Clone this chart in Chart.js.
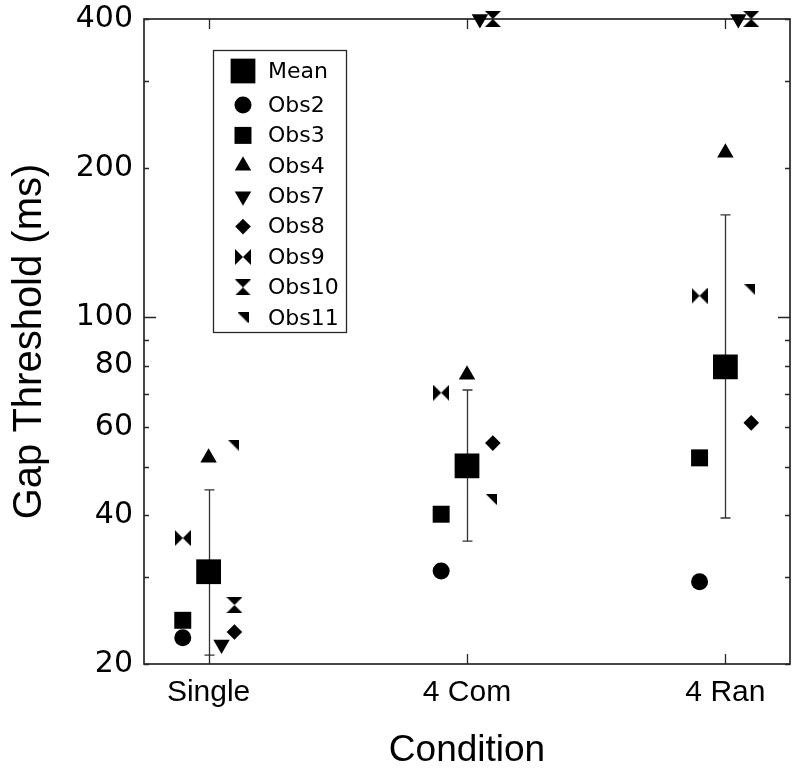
<!DOCTYPE html>
<html>
<head>
<meta charset="utf-8">
<script src="https://cdn.jsdelivr.net/npm/chart.js@4/dist/chart.umd.min.js"></script>
<style>
html,body{margin:0;padding:0;background:#fff;}
#wrap{width:800px;height:774px;}
</style>
</head>
<body>
<div id="wrap"><canvas id="c" width="800" height="774"></canvas></div>
<script>
// ---------- data ----------
const categories = ['Single', '4 Com', '4 Ran'];
const seriesNames = ['Mean', 'Obs2', 'Obs3', 'Obs4', 'Obs7', 'Obs8', 'Obs9', 'Obs10', 'Obs11'];
const meanValues = [30.7, 50.2, 79.5];
const errLow = [20.85, 35.4, 39.4];
const errHigh = [44.9, 71.4, 161];
const obs2 = [22.6, 30.8, 29.3];
const obs3 = [24.5, 40.1, 52.1];
const obs4 = [52.1, 76.6, 215];
const obs7 = [21.9, 400, 400];
const obs8 = [23.2, 55.8, 61.3];
const obs9 = [35.9, 70.5, 110.6];
const obs10 = [26.3, 400, 400];
const obs11 = [55.3, 42.9, 113.7];
const yTickValues = [20, 30, 40, 50, 60, 70, 80, 90, 100, 200, 300, 400];
const yTickLabels = ['20', '', '40', '', '60', '', '80', '', '100', '200', '', '400'];
const yLongTicks = [100];

// ---------- marker glyphs ----------
function makeMarker(w, h, polys) {
  const c = document.createElement('canvas');
  c.width = w; c.height = h;
  const g = c.getContext('2d');
  g.fillStyle = '#000';
  polys.forEach(p => {
    g.beginPath();
    p.forEach((pt, i) => i ? g.lineTo(pt[0], pt[1]) : g.moveTo(pt[0], pt[1]));
    g.closePath();
    g.fill();
  });
  return c;
}
const bowtie = makeMarker(16, 16, [[[0,0],[8,8],[0,16]], [[16,0],[8,8],[16,16]]]);
const hourglass = makeMarker(16, 16, [[[0,0],[16,0],[8,8]], [[0,16],[16,16],[8,8]]]);
const cornerTri = makeMarker(11, 11, [[[0,0],[11,0],[11,11]]]);

const seriesValues = [meanValues, obs2, obs3, obs4, obs7, obs8, obs9, obs10, obs11];
const seriesStyle = [
  {style: 'rect', radius: 17.5, rot: 0, dx: 0},
  {style: 'circle', radius: 8.5, rot: 0, dx: -0.1},
  {style: 'rect', radius: 12, rot: 0, dx: -0.1},
  {style: 'triangle', radius: 9.5, rot: 0, dx: 0},
  {style: 'triangle', radius: 9.5, rot: 180, dx: 0.05},
  {style: 'rectRot', radius: 7.8, rot: 0, dx: 0.1},
  {style: bowtie, radius: 8, rot: 0, dx: -0.1},
  {style: hourglass, radius: 8, rot: 0, dx: 0.1},
  {style: cornerTri, radius: 6, rot: 0, dx: 0.095}
];

const datasets = seriesNames.map((name, k) => ({
  label: name,
  data: seriesValues[k].map((v, i) => ({x: i + seriesStyle[k].dx, y: v})),
  pointStyle: seriesStyle[k].style,
  pointRadius: seriesStyle[k].radius,
  pointRotation: seriesStyle[k].rot,
  backgroundColor: '#000',
  borderColor: '#000',
  borderWidth: 0,
  showLine: false,
  clip: false
}));

// ---------- plugins ----------
const frameColor = '#262626';
const framePlugin = {
  id: 'frame',
  beforeDatasetsDraw(chart) {
    const {ctx, chartArea: a, scales: {x, y}} = chart;
    ctx.save();
    ctx.strokeStyle = frameColor;
    ctx.lineWidth = 1.7;
    ctx.strokeRect(a.left, a.top, a.right - a.left, a.bottom - a.top);
    ctx.lineWidth = 1.3;
    ctx.beginPath();
    categories.forEach((c, i) => {
      const px = Math.round(x.getPixelForValue(i)) + 0.5;
      ctx.moveTo(px, a.bottom); ctx.lineTo(px, a.bottom - 10);
      ctx.moveTo(px, a.top); ctx.lineTo(px, a.top + 10);
    });
    yTickValues.forEach(v => {
      const py = Math.round(y.getPixelForValue(v)) + 0.5;
      const len = yLongTicks.includes(v) ? 12 : 5;
      ctx.moveTo(a.left, py); ctx.lineTo(a.left + len, py);
      ctx.moveTo(a.right, py); ctx.lineTo(a.right - len, py);
    });
    ctx.stroke();
    // error bars
    ctx.strokeStyle = '#333';
    ctx.lineWidth = 1.3;
    ctx.beginPath();
    categories.forEach((c, i) => {
      const px = Math.round(x.getPixelForValue(i)) + 0.5;
      const y1 = y.getPixelForValue(errLow[i]);
      const y2 = y.getPixelForValue(errHigh[i]);
      ctx.moveTo(px, y1); ctx.lineTo(px, y2);
      ctx.moveTo(px - 5, y1); ctx.lineTo(px + 5, y1);
      ctx.moveTo(px - 5, y2); ctx.lineTo(px + 5, y2);
    });
    ctx.stroke();
    ctx.restore();
  },
  afterDraw(chart) {
    const {ctx} = chart;
    const box = {left: 213, top: 50, right: 346, bottom: 332};
    ctx.save();
    ctx.fillStyle = '#fff';
    ctx.fillRect(box.left, box.top, box.right - box.left, box.bottom - box.top);
    ctx.strokeStyle = frameColor;
    ctx.lineWidth = 1.3;
    ctx.strokeRect(box.left + 0.5, box.top + 0.5, box.right - box.left, box.bottom - box.top);
    ctx.font = '22px "DejaVu Sans"';
    ctx.textBaseline = 'middle';
    ctx.textAlign = 'left';
    chart.data.datasets.forEach((ds, k) => {
      const cy = k === 0 ? 71 : 105 + (k - 1) * 30.4;
      ctx.fillStyle = '#000';
      ctx.strokeStyle = '#000';
      Chart.helpers.drawPoint(ctx, {
        pointStyle: ds.pointStyle,
        radius: ds.pointRadius,
        rotation: ds.pointRotation,
        borderWidth: 0
      }, 243, cy);
      ctx.fillStyle = '#000';
      ctx.fillText(ds.label, 268, cy + 1);
    });
    ctx.restore();
  }
};

function zeroPad(s) {
  s.paddingTop = 0; s.paddingBottom = 0; s.paddingLeft = 0; s.paddingRight = 0;
}

new Chart(document.getElementById('c'), {
  type: 'scatter',
  data: {datasets},
  plugins: [framePlugin],
  options: {
    responsive: false,
    animation: false,
    events: [],
    layout: {autoPadding: false, padding: {top: 19, right: 10, left: 0, bottom: 0}},
    plugins: {legend: {display: false}, tooltip: {enabled: false}},
    scales: {
      x: {
        type: 'linear',
        min: -0.25,
        max: 2.25,
        grid: {display: false},
        border: {display: false},
        afterBuildTicks: s => { s.ticks = categories.map((c, i) => ({value: i})); },
        afterFit: s => { s.height = 110; zeroPad(s); },
        ticks: {
          autoSkip: false,
          maxRotation: 0,
          padding: 3,
          color: '#000',
          font: {family: '"Liberation Sans", Arial, sans-serif', size: 30},
          callback: v => categories[v] ?? ''
        },
        title: {
          display: true,
          text: 'Condition',
          color: '#000',
          font: {family: '"Liberation Sans", Arial, sans-serif', size: 37},
          padding: {top: 0, bottom: 1}
        }
      },
      y: {
        type: 'logarithmic',
        min: 20,
        max: 400,
        grid: {display: false},
        border: {display: false},
        afterBuildTicks: s => { s.ticks = yTickValues.map(v => ({value: v})); },
        afterFit: s => { s.width = 144; zeroPad(s); },
        ticks: {
          autoSkip: false,
          padding: 3,
          color: '#000',
          font: {family: '"DejaVu Sans", sans-serif', size: 30},
          callback: v => yTickLabels[yTickValues.indexOf(v)] ?? ''
        },
        title: {
          display: true,
          text: 'Gap Threshold (ms)',
          color: '#000',
          font: {family: '"Liberation Sans", Arial, sans-serif', size: 40},
          padding: {top: 6, bottom: 0}
        }
      }
    }
  }
});
</script>
</body>
</html>
